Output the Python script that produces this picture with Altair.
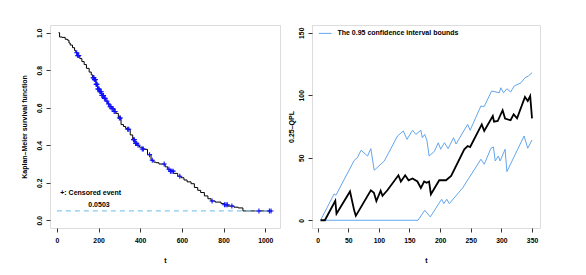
import altair as alt
import pandas as pd
import numpy as np

FONT = "Liberation Sans"

# ---- Left panel: Kaplan-Meier estimate ----
km_t = [8, 13, 25, 40, 51, 58, 64, 75, 85, 91, 100, 110, 120, 131, 142, 155, 165, 172, 180,
        188, 196, 205, 215, 225, 235, 244, 255, 265, 275, 284, 295, 308, 320, 330, 340, 352,
        364, 375, 385, 396, 410, 420, 435, 452, 465, 476, 490, 520, 532, 545, 560, 580, 596,
        610, 625, 644, 660, 676, 690, 708, 725, 740, 760, 788, 805, 821, 850, 870, 893, 1030]
km_s = [1.0, 0.977, 0.975, 0.965, 0.96, 0.945, 0.934, 0.92, 0.905, 0.893, 0.878, 0.862, 0.846,
        0.83, 0.81, 0.79, 0.775, 0.76, 0.75, 0.725, 0.70, 0.685, 0.665, 0.65, 0.635, 0.62,
        0.605, 0.595, 0.58, 0.57, 0.545, 0.51, 0.50, 0.49, 0.485, 0.455, 0.43, 0.41, 0.40,
        0.39, 0.38, 0.378, 0.35, 0.32, 0.31, 0.307, 0.30, 0.285, 0.272, 0.262, 0.25, 0.235,
        0.227, 0.215, 0.205, 0.195, 0.175, 0.16, 0.148, 0.13, 0.115, 0.103, 0.097, 0.089,
        0.083, 0.076, 0.07, 0.066, 0.05, 0.05]
cens_t = [95, 100, 105, 174, 176, 178, 180, 185, 188, 190, 193, 196, 200, 203, 206, 210, 213,
          216, 220, 224, 228, 232, 240, 248, 255, 260, 265, 270, 275, 280, 300, 305, 340, 345,
          368, 372, 378, 383, 390, 410, 415, 445, 458, 515, 538, 545, 552, 558, 590, 745, 805,
          812, 818, 840, 970, 1020, 1028]
median_line = 0.0503

# ---- Right panel: 0.25-QPL with confidence bounds ----
qpl_t = [5, 12, 29, 31, 53, 60, 62.5, 87, 92, 96, 103, 106, 114, 132, 136, 143, 148.6, 155,
         163, 168.6, 174, 178, 182, 185, 198.6, 209.6, 218, 239.5, 245, 249, 268, 272, 286,
         288, 294, 302, 306, 315, 320, 325.6, 338.5, 343, 347, 350]
qpl_v = [0, 0, 15.5, 5.3, 23, 7.5, 3.5, 24, 22, 15.4, 23.6, 19.6, 24, 36, 31, 36, 32, 33.4,
         31, 25.8, 31, 30, 31, 20.8, 32, 32, 35.4, 56.8, 59.4, 58.6, 76.7, 71.4, 83.4, 78.9,
         79.4, 88, 81.3, 80, 84.7, 81.5, 98.6, 95.4, 99.4, 81.5]
up_t = [5, 27, 30, 60, 65, 71, 81.7, 87, 92.5, 109, 130.5, 140, 146, 155, 160.5, 168.6, 171,
        175, 178.5, 182, 190.5, 197, 201, 207, 213, 222, 226, 245, 249, 266.6, 272, 284,
        296.6, 299, 303.6, 309, 315, 321, 332, 338.5, 344, 350]
up_v = [0, 21, 20, 48, 50, 56, 51.4, 57.3, 40, 47.4, 67.4, 71.4, 64.7, 72, 68.7, 72, 66, 68.7,
        64, 51.4, 55, 62, 56.8, 62, 57.3, 66, 61, 76.7, 72, 91.4, 91, 103.4, 102, 106, 102,
        105.2, 102.6, 107.4, 110, 114, 115.4, 118]
lo_t = [5, 164, 175, 184, 202.5, 206, 211, 215, 237, 266.6, 272, 283, 287, 290, 295, 298,
        306, 309, 337, 343, 350]
lo_v = [0, 0, 8, 2.7, 16.8, 13.3, 16.8, 13.3, 26, 48.8, 44.8, 57.6, 58.6, 47.4, 51.4, 47.4,
        56.8, 38.9, 67.4, 57.6, 64.2]
legend_label = "The 0.95 confidence interval bounds"

left_xticks = [0, 200, 400, 600, 800, 1000]
left_yticks = [0, 0.2, 0.4, 0.6, 0.8, 1.0]
right_xticks = [0, 50, 100, 150, 200, 250, 300, 350]
right_yticks = [0, 50, 100, 150]

BLUE = "#62a6ee"


def surv_at(t):
    idx = int(np.searchsorted(km_t, t, side="right")) - 1
    return km_s[max(idx, 0)]


km_df = pd.DataFrame({"t": km_t, "s": km_s})
cens_df = pd.DataFrame({"t": cens_t, "s": [surv_at(t) for t in cens_t]})

ax = dict(domain=False, grid=False, tickColor="black", tickSize=4, tickWidth=0.8,
          labelOverlap=False, labelFlush=False,
          labelFont=FONT, labelFontSize=6.8, labelColor="black", labelFontWeight="bold",
          titleFont=FONT, titleFontSize=7, titleColor="black", titleFontWeight="bold")

xl = alt.X("t:Q", scale=alt.Scale(domain=[-33, 1071], nice=False, zero=False),
           axis=alt.Axis(values=left_xticks, title="t", format="d",
                         labelPadding=5, titlePadding=13, **ax))
yl = alt.Y("s:Q", scale=alt.Scale(domain=[-0.041, 1.041], nice=False, zero=False),
           axis=alt.Axis(values=left_yticks, format=".1f",
                         title="Kaplan–Meier survival function", labelAngle=-90,
                         labelAlign="center", labelBaseline="bottom", labelPadding=4,
                         titlePadding=9, **ax))

km_line = alt.Chart(km_df).mark_line(interpolate="step-after", color="black",
                                     strokeWidth=1).encode(x=xl, y=yl)
cens_pts = alt.Chart(cens_df).mark_point(shape="M-1,0L1,0M0,-1L0,1", size=25, filled=False,
                                         color="#1010ff", strokeWidth=1.1, opacity=1).encode(
    x=xl, y=yl)
dash_df = pd.DataFrame({"t": [0], "t2": [1030], "s": [median_line]})
dash = alt.Chart(dash_df).mark_rule(color="#87c8f0", strokeDash=[5, 4],
                                    strokeWidth=1.2).encode(x=xl, x2="t2:Q", y=yl)
txt_df = pd.DataFrame({"t": [16, 202], "s": [0.147, 0.082],
                       "label": ["+: Censored event", f"{median_line:.4f}"]})
txt1 = alt.Chart(txt_df.iloc[[0]]).mark_text(align="left", baseline="middle", font=FONT,
                                             fontSize=7, fontWeight="bold",
                                             color="black").encode(x=xl, y=yl,
                                                                   text="label:N")
txt2 = alt.Chart(txt_df.iloc[[1]]).mark_text(align="center", baseline="middle", font=FONT,
                                             fontSize=7, fontWeight="bold",
                                             color="black").encode(x=xl, y=yl,
                                                                   text="label:N")
left = alt.layer(km_line, dash, cens_pts, txt1, txt2).properties(width=230, height=203)

# right panel
rdf = pd.concat([
    pd.DataFrame({"t": up_t, "v": up_v, "series": "upper"}),
    pd.DataFrame({"t": lo_t, "v": lo_v, "series": "lower"}),
])
qdf = pd.DataFrame({"t": qpl_t, "v": qpl_v})

xr = alt.X("t:Q", scale=alt.Scale(domain=[-9, 363], nice=False, zero=False),
           axis=alt.Axis(values=right_xticks, title="t", format="d",
                         labelPadding=5, titlePadding=13, **ax))
yr = alt.Y("v:Q", scale=alt.Scale(domain=[-6.2, 156.2], nice=False, zero=False),
           axis=alt.Axis(values=right_yticks, title="0.25–QPL", labelAngle=-90,
                         labelAlign="center", labelBaseline="bottom", labelPadding=4,
                         titlePadding=4, **ax))

bounds = alt.Chart(rdf).mark_line(color=BLUE, strokeWidth=1).encode(
    x=xr, y=yr, detail="series:N")
qline = alt.Chart(qdf).mark_line(color="black", strokeWidth=1.8).encode(x=xr, y=yr)
leg_df = pd.DataFrame({"t": [2], "t2": [23], "v": [149.5]})
leg_line = alt.Chart(leg_df).mark_rule(color=BLUE, strokeWidth=1).encode(
    x=xr, x2="t2:Q", y=yr)
legt_df = pd.DataFrame({"t": [32.5], "v": [149.5], "label": [legend_label]})
leg_text = alt.Chart(legt_df).mark_text(align="left", baseline="middle", font=FONT,
                                        fontSize=7, fontWeight="bold", color="black").encode(
    x=xr, y=yr, text="label:N")
right = alt.layer(bounds, qline, leg_line, leg_text).properties(width=228, height=203)

chart = alt.hconcat(left, right, spacing=5).properties(
    padding={"left": 11, "top": 16, "right": 5, "bottom": 5}
).configure_view(stroke="#555555", strokeWidth=1).configure(background="white")

chart.save("out.html", embed_options={"renderer": "svg", "actions": False})
